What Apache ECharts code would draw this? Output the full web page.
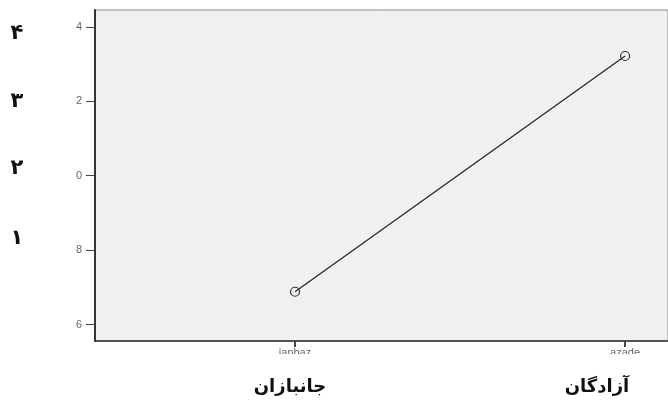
<!DOCTYPE html>
<html>
<head>
<meta charset="utf-8">
<script src="https://cdn.jsdelivr.net/npm/echarts@6/dist/echarts.min.js"></script>
<style>
html,body{margin:0;padding:0;background:#fff;}
#c{width:668px;height:403px;}
</style>
</head>
<body>
<div id="c"></div>
<script>
const categories = ['janbaz', 'azade'];
const values = [6.88, 13.22];
const yTickValues = [6, 8, 10, 12, 14];
const yTickLabels = ['6', '8', '0', '2', '4'];
const persianDigits = ['۴', '۳', '۲', '۱'];
const persianCategories = ['جانبازان', 'آزادگان'];

const chart = echarts.init(document.getElementById('c'), null, {renderer: 'canvas'});
const lineData = categories.map((c, i) => [i, values[i]]);

const digitTops = [34, 102, 169, 239];
const catCenters = [290, 597];

chart.setOption({
  animation: false,
  backgroundColor: '#ffffff',
  grid: {
    left: 95, top: 10, right: 0, bottom: 62,
    show: true, backgroundColor: '#f0f0f0', borderColor: '#8a8a8a', borderWidth: 1
  },
  xAxis: {
    type: 'value', min: -0.606, max: 1.13,
    axisLine: {show: true, onZero: false, lineStyle: {color: '#333', width: 1.5}},
    axisTick: {show: true, customValues: [0, 1], length: 6, lineStyle: {color: '#444', width: 2}},
    axisLabel: {
      customValues: [0, 1], margin: 6, color: '#666', fontSize: 11,
      fontFamily: 'Liberation Sans',
      formatter: v => categories[Math.round(v)]
    },
    splitLine: {show: false}
  },
  yAxis: {
    type: 'value', min: 5.556, max: 14.457,
    axisLine: {show: true, onZero: false, lineStyle: {color: '#333', width: 2}},
    axisTick: {show: true, customValues: yTickValues, length: 9, lineStyle: {color: '#444', width: 1}},
    axisLabel: {
      customValues: yTickValues, margin: 13, color: '#666', fontSize: 11,
      fontFamily: 'Liberation Sans',
      formatter: v => yTickLabels[yTickValues.indexOf(Math.round(v))]
    },
    splitLine: {show: false}
  },
  series: [{
    type: 'line',
    data: lineData,
    symbol: 'circle',
    symbolSize: 9,
    showSymbol: true,
    lineStyle: {color: '#222', width: 1.2},
    itemStyle: {color: 'transparent', borderColor: '#333', borderWidth: 1.2},
    emphasis: {disabled: true}
  }],
  graphic: [
    {type: 'rect', left: 250, top: 354, shape: {width: 418, height: 14}, style: {fill: '#fff'}, z: 100},
    ...persianDigits.map((d, i) => ({
      type: 'text', x: 17, y: digitTops[i], z: 101,
      style: {text: d, fill: '#111', font: 'bold 21px "DejaVu Sans"', align: 'center', verticalAlign: 'middle'}
    })),
    ...persianCategories.map((t, i) => ({
      type: 'text', x: catCenters[i], y: 387, z: 101,
      style: {text: t, fill: '#111', font: 'bold 18px "DejaVu Sans"', align: 'center', verticalAlign: 'middle'}
    }))
  ]
});
</script>
</body>
</html>
